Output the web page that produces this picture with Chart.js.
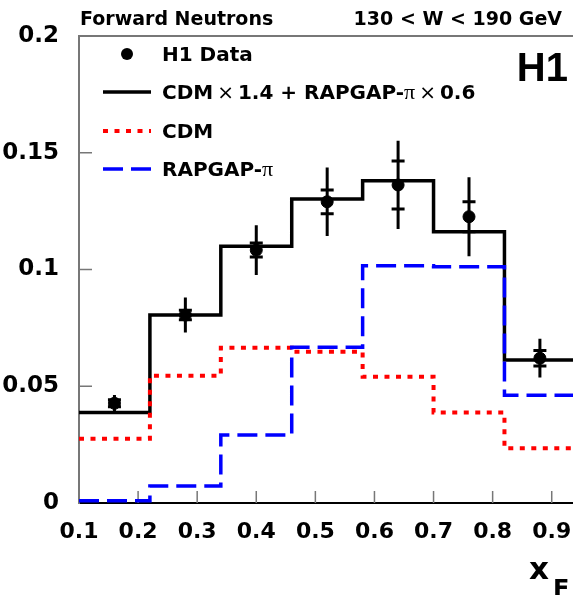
<!DOCTYPE html>
<html>
<head>
<meta charset="utf-8">
<script src="https://cdn.jsdelivr.net/npm/chart.js@4.4.1/dist/chart.umd.min.js"></script>
<style>
  html, body { margin: 0; padding: 0; background: #fff; }
</style>
</head>
<body>
<canvas id="c" width="573" height="595"></canvas>
<script>
// histogram bin edges in x_F
var binEdges = [0.10, 0.22, 0.34, 0.46, 0.58, 0.70, 0.82, 0.94];
// model predictions, one value per bin
var combined = [0.0388, 0.0805, 0.1100, 0.1302, 0.1380, 0.1162, 0.0612];
var cdm      = [0.0275, 0.0545, 0.0665, 0.0648, 0.0541, 0.0388, 0.0234];
var rapgap   = [0.0010, 0.0073, 0.0291, 0.0667, 0.1016, 0.1012, 0.0461];
// H1 measurement
var dataX   = [0.16, 0.28, 0.40, 0.52, 0.64, 0.76, 0.88];
var dataY   = [0.0427, 0.0805, 0.1083, 0.1290, 0.1362, 0.1226, 0.0620];
var errStat = [0.0015, 0.0020, 0.0030, 0.0051, 0.0103, 0.0064, 0.0033];
var errTot  = [0.0035, 0.0075, 0.0107, 0.0147, 0.0189, 0.0169, 0.0083];
// axis ticks
var xTicks = [0.1, 0.2, 0.3, 0.4, 0.5, 0.6, 0.7, 0.8, 0.9];
var yTicks = [0, 0.05, 0.1, 0.15, 0.2];

var FONT = '"DejaVu Sans", sans-serif';

function histPoints(vals) {
	return binEdges.map(function(x, i) {
		return { x: x, y: vals[Math.min(i, vals.length - 1)] };
	});
}

var h1Points = dataX.map(function(x, i) { return { x: x, y: dataY[i] }; });

// the plot runs off the right edge of the picture: let the x axis reach the canvas edge
var fullWidth = {
	id: 'fullWidth',
	afterLayout: function(chart) {
		var a = chart.chartArea, xs = chart.scales.x;
		a.right = chart.width;
		a.width = a.right - a.left;
		xs.right = a.right;
		xs.width = a.width;
		xs.configure();
	}
};

// error bars: full line = total error, cross ticks = statistical error
var errorBars = {
	id: 'errorBars',
	afterDatasetsDraw: function(chart) {
		var xs = chart.scales.x, ys = chart.scales.y, c = chart.ctx;
		c.save();
		c.strokeStyle = '#000';
		c.lineWidth = 3;
		for (var i = 0; i < dataX.length; i++) {
			var px = xs.getPixelForValue(dataX[i]);
			c.beginPath();
			c.moveTo(px, ys.getPixelForValue(dataY[i] - errTot[i]));
			c.lineTo(px, ys.getPixelForValue(dataY[i] + errTot[i]));
			[dataY[i] - errStat[i], dataY[i] + errStat[i]].forEach(function(v) {
				var py = ys.getPixelForValue(v);
				c.moveTo(px - 6.5, py);
				c.lineTo(px + 6.5, py);
			});
			c.stroke();
		}
		c.restore();
	}
};

// frame top line and inward tick marks
var frame = {
	id: 'frame',
	beforeDatasetsDraw: function(chart) {
		var a = chart.chartArea, xs = chart.scales.x, ys = chart.scales.y, c = chart.ctx;
		c.save();
		c.strokeStyle = '#777';
		c.lineWidth = 2;
		c.beginPath();
		c.moveTo(a.left, a.top);
		c.lineTo(a.right, a.top);
		c.stroke();
		c.lineWidth = 1.5;
		c.beginPath();
		yTicks.forEach(function(v) {
			if (v === 0) return;
			var py = ys.getPixelForValue(v);
			c.moveTo(a.left, py);
			c.lineTo(a.left + 13, py);
		});
		xTicks.forEach(function(v) {
			if (v === 0.1) return;
			var px = xs.getPixelForValue(v);
			c.moveTo(px, a.bottom);
			c.lineTo(px, a.bottom - 12);
		});
		c.stroke();
		c.restore();
	}
};

function drawSegments(c, x, y, segs) {
	segs.forEach(function(s) {
		c.font = s[1];
		c.fillText(s[0], x, y);
		x += c.measureText(s[0]).width;
	});
}

// header, H1 logo, legend and axis title
var labels = {
	id: 'labels',
	afterDraw: function(chart) {
		var c = chart.ctx, ds = chart.data.datasets;
		var B = 'bold 20px ' + FONT;
		var S = 'normal 20px "DejaVu Sans"';
		var P = 'normal 22px "Liberation Serif"';
		c.save();
		c.fillStyle = '#000';
		c.textBaseline = 'alphabetic';

		c.font = 'bold 19px ' + FONT;
		c.textAlign = 'left';
		c.fillText('Forward Neutrons', 80, 25);
		c.textAlign = 'right';
		c.fillText('130 < W < 190 GeV', 562, 25);

		c.font = 'bold 40px "Liberation Sans"';
		c.fillText('H1', 568, 81);
		c.textAlign = 'left';

		// legend
		c.beginPath();
		c.arc(127, 54, 6, 0, Math.PI * 2);
		c.fill();
		drawSegments(c, 162, 61, [['H1 Data', B]]);

		var rows = [
			[ds[3], 92, [['CDM', B], ['\u2009\u00d7\u2009', S], ['1.4 + RAPGAP-', B], ['\u03c0', P], ['\u2009\u00d7\u2009', S], ['0.6', B]]],
			[ds[2], 131, [['CDM', B]]],
			[ds[1], 169, [['RAPGAP-', B], ['\u03c0', P]]]
		];
		rows.forEach(function(r) {
			var d = r[0];
			c.save();
			c.strokeStyle = d.borderColor;
			c.lineWidth = d.borderWidth;
			c.setLineDash(d.borderDash || []);
			c.beginPath();
			c.moveTo(103, r[1]);
			c.lineTo(151, r[1]);
			c.stroke();
			c.restore();
			drawSegments(c, 162, r[1] + 7, r[2]);
		});

		// x_F axis title
		c.font = 'bold 31px ' + FONT;
		c.fillText('x', 529, 579);
		c.font = 'bold 24px ' + FONT;
		c.fillText('F', 553, 597);
		c.restore();
	}
};

new Chart(document.getElementById('c'), {
	type: 'line',
	data: {
		datasets: [
			{ label: 'H1 Data', data: h1Points, showLine: false, pointRadius: 6,
				pointBackgroundColor: '#000', pointBorderColor: '#000', borderColor: '#000' },
			{ label: 'RAPGAP-\u03c0', data: histPoints(rapgap), stepped: true, borderColor: '#0000ff',
				borderWidth: 3.5, borderDash: [20, 8], pointRadius: 0, fill: false },
			{ label: 'CDM', data: histPoints(cdm), stepped: true, borderColor: '#ff0000',
				borderWidth: 4, borderDash: [5, 6.5], pointRadius: 0, fill: false },
			{ label: 'CDM \u00d7 1.4 + RAPGAP-\u03c0 \u00d7 0.6', data: histPoints(combined), stepped: true,
				borderColor: '#000', borderWidth: 3.5, pointRadius: 0, fill: false }
		]
	},
	options: {
		responsive: false,
		animation: false,
		devicePixelRatio: 1,
		layout: { autoPadding: false, padding: { top: 36, left: 0, right: 0, bottom: 0 } },
		plugins: { legend: { display: false }, tooltip: { enabled: false } },
		scales: {
			x: {
				type: 'linear', min: 0.1, max: 0.936,
				grid: { display: false },
				border: { color: '#000', width: 2 },
				afterBuildTicks: function(s) { s.ticks = xTicks.map(function(v) { return { value: v }; }); },
				afterFit: function(s) { s.height = 92; },
				ticks: {
					font: { family: FONT, size: 22, weight: 'bold' }, color: '#000', padding: 8,
					maxRotation: 0, autoSkip: false,
					callback: function(v) { return String(Math.round(v * 100) / 100); }
				}
			},
			y: {
				type: 'linear', min: 0, max: 0.2,
				grid: { display: false },
				border: { color: '#777', width: 2 },
				afterBuildTicks: function(s) { s.ticks = yTicks.map(function(v) { return { value: v }; }); },
				afterFit: function(s) { s.width = 79; },
				ticks: {
					font: { family: FONT, size: 23, weight: 'bold' }, color: '#000', padding: 12,
					callback: function(v) { return String(Math.round(v * 100) / 100); }
				}
			}
		}
	},
	plugins: [fullWidth, frame, errorBars, labels]
});
</script>
</body>
</html>
